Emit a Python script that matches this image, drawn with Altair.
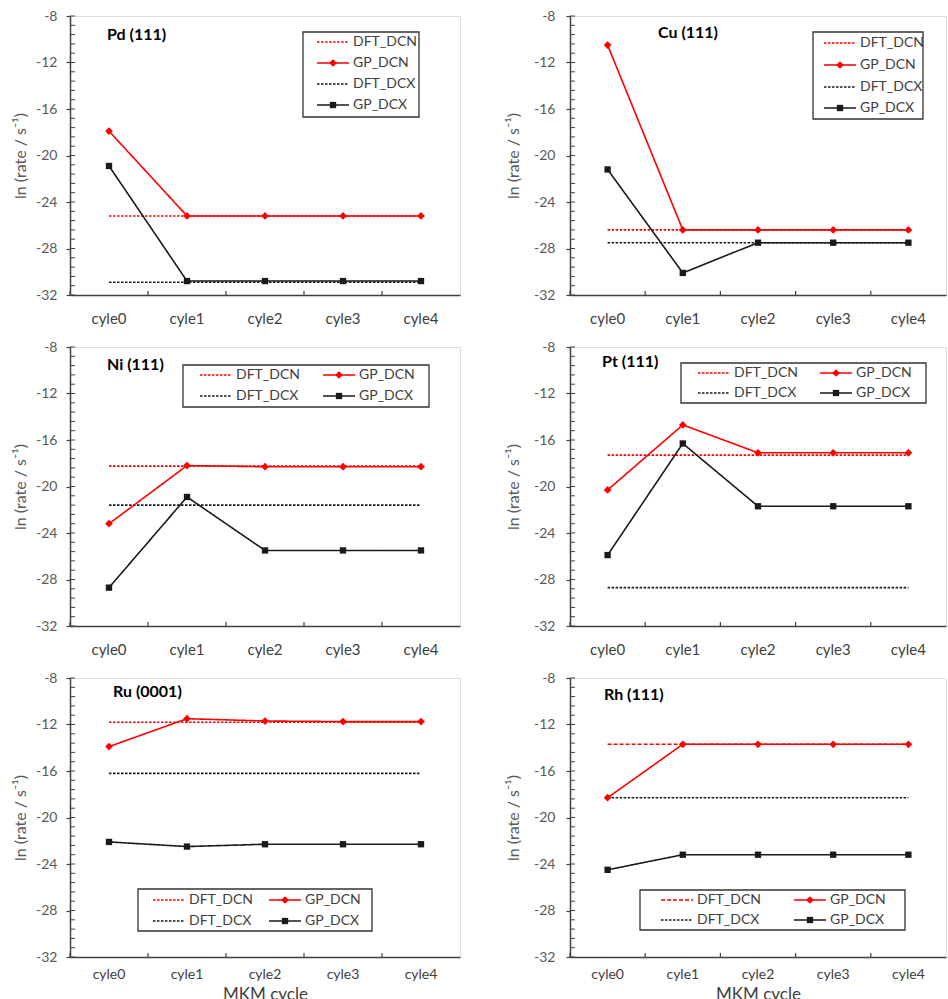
import altair as alt
import pandas as pd

cycles = ["cyle0", "cyle1", "cyle2", "cyle3", "cyle4"]
series_names = ["DFT_DCN", "GP_DCN", "DFT_DCX", "GP_DCX"]
surfaces = ["Pd (111)", "Cu (111)", "Ni (111)", "Pt (111)", "Ru (0001)", "Rh (111)"]

gp_dcn = {
    "Pd (111)": [-17.9, -25.2, -25.2, -25.2, -25.2],
    "Cu (111)": [-10.5, -26.4, -26.4, -26.4, -26.4],
    "Ni (111)": [-23.2, -18.2, -18.3, -18.3, -18.3],
    "Pt (111)": [-20.3, -14.7, -17.1, -17.1, -17.1],
    "Ru (0001)": [-13.9, -11.5, -11.7, -11.75, -11.75],
    "Rh (111)": [-18.3, -13.7, -13.7, -13.7, -13.7],
}
gp_dcx = {
    "Pd (111)": [-20.9, -30.8, -30.8, -30.8, -30.8],
    "Cu (111)": [-21.2, -30.1, -27.5, -27.5, -27.5],
    "Ni (111)": [-28.7, -20.9, -25.5, -25.5, -25.5],
    "Pt (111)": [-25.9, -16.3, -21.7, -21.7, -21.7],
    "Ru (0001)": [-22.1, -22.5, -22.3, -22.3, -22.3],
    "Rh (111)": [-24.5, -23.2, -23.2, -23.2, -23.2],
}
dft_dcn = {"Pd (111)": -25.2, "Cu (111)": -26.4, "Ni (111)": -18.25,
           "Pt (111)": -17.3, "Ru (0001)": -11.8, "Rh (111)": -13.7}
dft_dcx = {"Pd (111)": -30.9, "Cu (111)": -27.5, "Ni (111)": -21.6,
           "Pt (111)": -28.7, "Ru (0001)": -16.2, "Rh (111)": -18.3}

y_major = [-32, -28, -24, -20, -16, -12, -8]
y_minor = [round(-32 + 0.8 * k, 1) for k in range(31)]

RED = "#FF0000"
BLACK = "#1a1a1a"
AXC = "#404040"
LBL = "#595959"
FONT = "Lato"
H = 279
DOT = [2.5, 1.5]
SOLID = [1, 0]
SERIES_COLOR = {"DFT_DCN": RED, "GP_DCN": RED, "DFT_DCX": BLACK, "GP_DCX": BLACK}

# legend box placement (pixels inside each plot) -- layout only
panel_style = {
    "Pd (111)": dict(left=True, bottom=False, box=(233, 16, 116, 85), cols=[14], rows=[10, 31, 52, 73], tx=37, ty=19, dcn_dash=DOT),
    "Cu (111)": dict(left=False, bottom=False, box=(243, 16, 110, 87), cols=[11], rows=[11, 33, 55, 76], tx=88, ty=17, dcn_dash=DOT),
    "Ni (111)": dict(left=True, bottom=False, box=(113, 18, 246, 42), cols=[17, 140], rows=[10, 31], tx=37, ty=18, dcn_dash=DOT),
    "Pt (111)": dict(left=False, bottom=False, box=(111, 16, 245, 40), cols=[17, 139], rows=[10, 30], tx=32, ty=15, dcn_dash=DOT),
    "Ru (0001)": dict(left=True, bottom=True, box=(68, 211, 234, 42), cols=[15, 131], rows=[11, 32], tx=43, ty=14, dcn_dash=DOT),
    "Rh (111)": dict(left=False, bottom=True, box=(70, 212, 265, 40), cols=[21, 154], rows=[10, 30], tx=34, ty=17, dcn_dash=[4, 2]),
}

IND = dict(color="independent", strokeDash="independent")


def legend_layers(st):
    bx, by, bw, bh = st["box"]
    one = pd.DataFrame({"k": [0]})
    layers = [alt.Chart(one).mark_rect(fill="white", stroke="#333333", strokeWidth=1.3).encode(
        x=alt.value(bx), x2=alt.value(bx + bw), y=alt.value(by), y2=alt.value(by + bh))]
    ncol = len(st["cols"])
    for idx, s in enumerate(series_names):
        r, c = (idx, 0) if ncol == 1 else (idx // 2, idx % 2)
        sx = bx + st["cols"][c]
        sy = by + st["rows"][r]
        dash = (st["dcn_dash"] if s == "DFT_DCN" else DOT) if s.startswith("DFT") else SOLID
        layers.append(alt.Chart(one).mark_rule(
            color=SERIES_COLOR[s], strokeWidth=1.5, strokeDash=dash
        ).encode(x=alt.value(sx), x2=alt.value(sx + 32), y=alt.value(sy)))
        if s.startswith("GP"):
            layers.append(alt.Chart(one).mark_point(
                shape="diamond" if s == "GP_DCN" else "square", filled=True,
                size=60 if s == "GP_DCN" else 40, color=SERIES_COLOR[s], opacity=1
            ).encode(x=alt.value(sx + 16), y=alt.value(sy)))
        layers.append(alt.Chart(pd.DataFrame({"label": [s]})).mark_text(
            align="left", baseline="middle", font=FONT, fontSize=14, color=AXC
        ).encode(x=alt.value(sx + 36), y=alt.value(sy), text="label:N"))
    return layers


def make_panel(name):
    st = panel_style[name]
    W = 390 if st["left"] else 376
    rows = []
    for i, c in enumerate(cycles):
        rows.append({"series": "DFT_DCN", "cycle": c, "value": dft_dcn[name]})
        rows.append({"series": "DFT_DCX", "cycle": c, "value": dft_dcx[name]})
        rows.append({"series": "GP_DCN", "cycle": c, "value": gp_dcn[name][i]})
        rows.append({"series": "GP_DCX", "cycle": c, "value": gp_dcx[name][i]})
    df = pd.DataFrame(rows)
    base = alt.Chart(df)

    xscale = alt.Scale(type="band", domain=cycles, paddingInner=0, paddingOuter=0)
    yscale = alt.Scale(domain=[-32, -8], nice=False, zero=False)

    x_axis = alt.Axis(
        ticks=False, tickSize=0, domain=True, domainColor=AXC, domainWidth=1.5,
        labelAngle=0, labelPadding=10 if st["bottom"] else 16,
        labelFontSize=14 if st["bottom"] else 15, labelColor=AXC, labelFont=FONT,
        title="MKM cycle" if st["bottom"] else None,
        titleFontSize=17, titleColor=AXC, titleFont=FONT, titleFontWeight="normal",
        titlePadding=5, grid=False,
    )
    y_axis = alt.Axis(
        values=y_major, labelExpr="'' + datum.value", tickSize=4, tickColor=AXC,
        tickWidth=1.2, labelPadding=9 if st["left"] else 11, labelFontSize=14,
        labelColor=LBL, labelFont=FONT, title="ln (rate / s⁻¹)", titleFontSize=16,
        titleColor=LBL, titleFont=FONT, titleFontWeight="normal",
        titlePadding=7 if st["left"] else 12, grid=False,
        domainColor=AXC, domainWidth=1.5,
    )

    lines = base.mark_line(strokeWidth=1.6).encode(
        x=alt.X("cycle:N", scale=xscale, sort=cycles, bandPosition=0.5, axis=x_axis),
        y=alt.Y("value:Q", scale=yscale, axis=y_axis),
        color=alt.Color("series:N", scale=alt.Scale(domain=series_names, range=[RED, RED, BLACK, BLACK]), legend=None),
        strokeDash=alt.StrokeDash("series:N", scale=alt.Scale(domain=series_names, range=[st["dcn_dash"], SOLID, DOT, SOLID]), legend=None),
    )

    minor_ticks = alt.Chart(pd.DataFrame({"value": y_minor})).mark_tick(
        orient="horizontal", size=5, thickness=1, color=AXC, opacity=1
    ).encode(y=alt.Y("value:Q"), x=alt.value(2.5))
    band_ticks = alt.Chart(pd.DataFrame({"cycle": cycles})).mark_tick(
        orient="vertical", size=4, thickness=1.2, color=AXC, opacity=1
    ).encode(x=alt.X("cycle:N", sort=cycles, bandPosition=0), y=alt.value(H - 2))

    x_plain = alt.X("cycle:N", sort=cycles, bandPosition=0.5)
    y_plain = alt.Y("value:Q")
    pts_dcn = base.transform_filter(alt.datum.series == "GP_DCN").mark_point(
        shape="diamond", filled=True, size=60, color=RED, opacity=1
    ).encode(x=x_plain, y=y_plain)
    pts_dcx = base.transform_filter(alt.datum.series == "GP_DCX").mark_point(
        shape="square", filled=True, size=40, color=BLACK, opacity=1
    ).encode(x=x_plain, y=y_plain)

    title = alt.Chart(pd.DataFrame({"t": [name]})).mark_text(
        align="left", baseline="middle", fontWeight="bold", fontSize=16, font=FONT, color="black"
    ).encode(x=alt.value(st["tx"]), y=alt.value(st["ty"]), text="t:N")

    return alt.layer(lines, minor_ticks, band_ticks, pts_dcn, pts_dcx, title,
                     *legend_layers(st)).properties(width=W, height=H)


def row(a, b):
    return alt.hconcat(make_panel(a), make_panel(b), spacing=44).resolve_scale(**IND)


chart = alt.vconcat(
    row("Pd (111)", "Cu (111)"), row("Ni (111)", "Pt (111)"), row("Ru (0001)", "Rh (111)"),
    spacing=12,
).resolve_scale(**IND).properties(
    padding={"left": 12, "top": 8, "right": 0, "bottom": 0}
).configure_view(stroke=AXC, strokeWidth=1.5).configure(background="white")

chart.save("out.html", embed_options={"renderer": "svg", "actions": False})
